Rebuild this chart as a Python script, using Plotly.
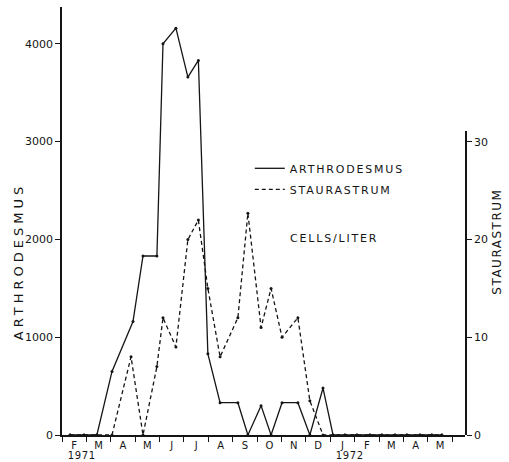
import plotly.graph_objects as go

# Month labels along the time axis (Feb 1971 .. May 1972)
months = ["F", "M", "A", "M", "J", "J", "A", "S", "O", "N", "D", "J", "F", "M", "A", "M"]
years = ["1971", "1972"]
year_pos = [0.78, 11.8]          # months since 1 Feb 1971

# Sampling dates, in months since 1 Feb 1971
arth_t = [0.33, 0.90, 1.43, 2.05, 2.91, 3.32, 3.89, 4.14, 4.67, 5.16, 5.59,
          5.98, 6.48, 7.21, 7.62, 8.16, 8.57, 9.02, 9.67, 10.16, 10.70, 11.11,
          11.60, 12.09, 12.62, 13.11, 13.65, 14.14, 14.67, 15.16, 15.57]
# Arthrodesmus, cells per liter
arth_cells = [0, 0, 0, 650, 1160, 1830, 1830, 4000, 4160, 3660, 3830,
              830, 330, 330, 0, 300, 0, 330, 330, 0, 480, 0,
              0, 0, 0, 0, 0, 0, 0, 0, 0]

stau_t = [0.33, 0.90, 1.43, 2.05, 2.83, 3.32, 3.89, 4.14, 4.67, 5.16, 5.59,
          5.98, 6.48, 7.21, 7.62, 8.16, 8.57, 9.02, 9.67, 10.16, 10.70, 11.11,
          11.60, 12.09, 12.62, 13.11, 13.65, 14.14, 14.67, 15.16, 15.57]
# Staurastrum, cells per liter
stau_cells = [0, 0, 0, 0, 8, 0, 7, 12, 9, 20, 22,
              15, 8, 12, 22.7, 11, 15, 10, 12, 3.5, 0, 0,
              0, 0, 0, 0, 0, 0, 0, 0, 0]

arth_ticks = [0, 1000, 2000, 3000, 4000]
stau_ticks = [0, 10, 20, 30]

INK = "#151515"
FONT = "DejaVu Sans"

fig = go.Figure()

fig.add_trace(go.Scatter(
    x=arth_t, y=arth_cells, mode="lines", name="ARTHRODESMUS",
    legendgroup="arth", line=dict(color=INK, width=1.3)))
fig.add_trace(go.Scatter(
    x=arth_t, y=arth_cells, mode="markers", showlegend=False,
    marker=dict(color=INK, size=3)))

fig.add_trace(go.Scatter(
    x=stau_t, y=stau_cells, yaxis="y2", mode="lines", name="STAURASTRUM",
    legendgroup="stau", line=dict(color=INK, width=1.3, dash="4px,3px")))
fig.add_trace(go.Scatter(
    x=stau_t, y=stau_cells, yaxis="y2", mode="markers", showlegend=False,
    marker=dict(color=INK, size=3)))

# annotation 0: units note
fig.add_annotation(
    text="CELLS/LITER", xref="paper", yref="paper", x=0.677, y=0.46,
    xanchor="center", yanchor="middle", showarrow=False,
    font=dict(family=FONT, size=11, color=INK))

# annotations 1-2: years under the month letters
for yr, pos in zip(years, year_pos):
    fig.add_annotation(
        text=yr, xref="x", yref="paper", x=pos, y=0, yshift=-20,
        xanchor="center", yanchor="middle", showarrow=False,
        font=dict(family=FONT, size=10, color=INK))

# annotations 3-4: axis titles
fig.add_annotation(
    text="ARTHRODESMUS", xref="paper", yref="paper", x=-0.109, y=0.404,
    xanchor="center", yanchor="middle", textangle=-90, showarrow=False,
    font=dict(family=FONT, size=13, color=INK))
fig.add_annotation(
    text="STAURASTRUM", xref="paper", yref="paper", x=1.079, y=0.452,
    xanchor="center", yanchor="middle", textangle=-90, showarrow=False,
    font=dict(family=FONT, size=12, color=INK))

axis_common = dict(
    showline=True, linecolor=INK, linewidth=1.5, showgrid=False,
    zeroline=False, automargin=False, fixedrange=True,
    tickfont=dict(family=FONT, size=11, color=INK))

fig.update_layout(
    width=509, height=462,
    margin=dict(l=62, r=44, t=7, b=27, pad=0),
    paper_bgcolor="white", plot_bgcolor="rgba(0,0,0,0)",
    font=dict(family=FONT, size=11, color=INK),
    showlegend=True,
    legend=dict(
        x=0.466, y=0.657, xanchor="left", yanchor="top",
        bgcolor="rgba(0,0,0,0)", traceorder="grouped", tracegroupgap=2,
        font=dict(family=FONT, size=11, color=INK)),
    xaxis=dict(
        range=[0, 16.52],
        tickvals=[i + 0.5 for i in range(len(months))], ticktext=months,
        ticks="", tickfont=dict(family=FONT, size=10, color=INK),
        minor=dict(tickmode="linear", tick0=0, dtick=1, ticks="outside",
                   ticklen=5, tickcolor=INK, tickwidth=1, showgrid=False),
        **{k: v for k, v in axis_common.items() if k != "tickfont"}),
    yaxis=dict(
        range=[0, 4376], tickvals=arth_ticks,
        ticks="outside", ticklen=5, tickcolor=INK, tickwidth=1,
        **axis_common),
    yaxis2=dict(
        domain=[0, 0.71], range=[0, 31.1], tickvals=stau_ticks,
        anchor="x", side="right",
        ticks="outside", ticklen=5, tickcolor=INK, tickwidth=1,
        **axis_common),
)

# Hand-lettered look: widen the spacing of the capital-letter labels
spacing_js = """
var sp = {'0': '1.8px', '1': '0.6px', '2': '0.6px', '3': '4px', '4': '1.5px'};
document.querySelectorAll('.annotation').forEach(function(a){
  var s = sp[a.getAttribute('data-index')];
  if (s) { a.querySelectorAll('.annotation-text').forEach(function(t){ t.style.letterSpacing = s; }); }
});
document.querySelectorAll('.legendtext').forEach(function(t){ t.style.letterSpacing = '1.8px'; });
document.querySelectorAll('.legend .scrollbox').forEach(function(b){ b.removeAttribute('clip-path'); });
document.querySelectorAll('.legend').forEach(function(b){ b.removeAttribute('clip-path'); });
"""

fig.write_html("out.html", post_script=spacing_js)
